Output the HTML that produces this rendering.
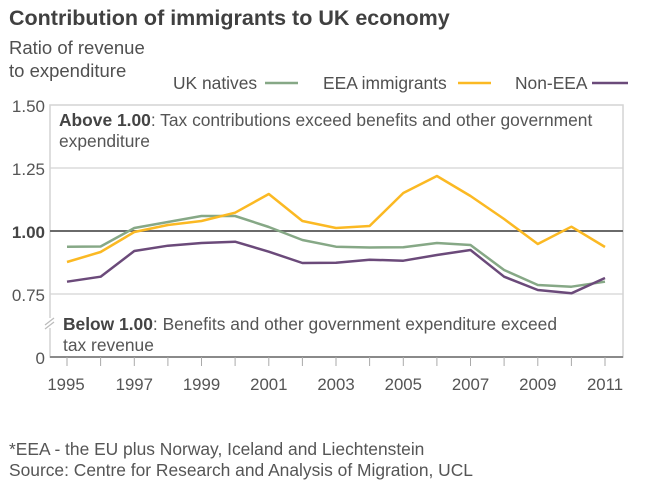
<!DOCTYPE html>
<html><head><meta charset="utf-8"><style>
html,body{margin:0;padding:0;background:#fff;}
svg{display:block;font-family:"Liberation Sans",Arial,sans-serif;}
</style></head><body>
<svg width="651" height="487" viewBox="0 0 651 487" xmlns="http://www.w3.org/2000/svg">
<text x="9" y="25" font-size="21.5" font-weight="bold" fill="#404040">Contribution of immigrants to UK economy</text>
<text x="9" y="54" font-size="18.5" fill="#505050">Ratio of revenue</text>
<text x="9" y="77" font-size="18.5" fill="#505050">to expenditure</text>
<text x="173" y="89" font-size="17.4" fill="#505050">UK natives</text>
<line x1="265" y1="83" x2="298" y2="83" stroke="#86a886" stroke-width="2.5"/>
<text x="323" y="89" font-size="17.4" fill="#505050">EEA immigrants</text>
<line x1="458" y1="83" x2="491" y2="83" stroke="#fbb923" stroke-width="2.5"/>
<text x="515" y="89" font-size="17.4" fill="#505050">Non-EEA</text>
<line x1="592" y1="83" x2="628" y2="83" stroke="#6b4a7a" stroke-width="2.5"/>
<rect x="50" y="105" width="573" height="252" fill="none" stroke="#d4d4d4" stroke-width="1.5"/>
<line x1="50" y1="168" x2="623" y2="168" stroke="#d4d4d4" stroke-width="1.2"/>
<line x1="50" y1="294" x2="623" y2="294" stroke="#d4d4d4" stroke-width="1.2"/>
<line x1="50" y1="231" x2="623" y2="231" stroke="#6a6a6a" stroke-width="2"/>
<line x1="50" y1="357" x2="623" y2="357" stroke="#8a8a8a" stroke-width="2"/>
<g stroke="#aaaaaa" stroke-width="1">
<line x1="67" y1="357" x2="67" y2="366"/><line x1="100.6" y1="357" x2="100.6" y2="366"/><line x1="134.3" y1="357" x2="134.3" y2="366"/><line x1="167.9" y1="357" x2="167.9" y2="366"/><line x1="201.5" y1="357" x2="201.5" y2="366"/><line x1="235.1" y1="357" x2="235.1" y2="366"/><line x1="268.8" y1="357" x2="268.8" y2="366"/><line x1="302.4" y1="357" x2="302.4" y2="366"/><line x1="336" y1="357" x2="336" y2="366"/><line x1="369.6" y1="357" x2="369.6" y2="366"/><line x1="403.3" y1="357" x2="403.3" y2="366"/><line x1="436.9" y1="357" x2="436.9" y2="366"/><line x1="470.5" y1="357" x2="470.5" y2="366"/><line x1="504.1" y1="357" x2="504.1" y2="366"/><line x1="537.8" y1="357" x2="537.8" y2="366"/><line x1="571.4" y1="357" x2="571.4" y2="366"/><line x1="605" y1="357" x2="605" y2="366"/>
</g>
<rect x="45" y="318" width="10" height="10" fill="#fff"/>
<line x1="45" y1="325" x2="54" y2="318" stroke="#bbb" stroke-width="1.2"/>
<line x1="45" y1="329" x2="54" y2="322" stroke="#bbb" stroke-width="1.2"/>
<g font-size="17" fill="#555" text-anchor="end">
<text x="45" y="112">1.50</text>
<text x="45" y="175">1.25</text>
<text x="45" y="238" font-weight="bold" fill="#444">1.00</text>
<text x="45" y="301">0.75</text>
<text x="45" y="364">0</text>
</g>
<g font-size="16.8" fill="#555" text-anchor="middle">
<text x="66" y="390">1995</text><text x="134.3" y="390">1997</text><text x="201.5" y="390">1999</text><text x="268.8" y="390">2001</text><text x="336" y="390">2003</text><text x="403.3" y="390">2005</text><text x="470.5" y="390">2007</text><text x="537.8" y="390">2009</text><text x="605" y="390">2011</text>
</g>
<text x="59" y="126" font-size="17.4" fill="#555"><tspan font-weight="bold" fill="#444">Above 1.00</tspan>: Tax contributions exceed benefits and other government</text>
<text x="59" y="147" font-size="17.4" fill="#555">expenditure</text>
<text x="63" y="330" font-size="17.4" fill="#555"><tspan font-weight="bold" fill="#444">Below 1.00</tspan>: Benefits and other government expenditure exceed</text>
<text x="63" y="351" font-size="17.4" fill="#555">tax revenue</text>
<g fill="none" stroke-width="2.5" stroke-linejoin="round">
<polyline stroke="#86a886" points="67,246.7 100.6,246.5 134.3,228 167.9,222 201.5,216 235.1,216 268.8,227 302.4,240 336,246.7 369.6,247.5 403.3,247.3 436.9,243 470.5,245 504.1,270 537.8,285 571.4,286.7 605,281.7"/>
<polyline stroke="#fbb923" points="67,262 100.6,252 134.3,232 167.9,225 201.5,221 235.1,212.7 268.8,194 302.4,221 336,228 369.6,226 403.3,193 436.9,176 470.5,196 504.1,219 537.8,244 571.4,226.7 605,247"/>
<polyline stroke="#6b4a7a" points="67,281.7 100.6,276.7 134.3,251 167.9,245.7 201.5,243 235.1,241.7 268.8,251.7 302.4,263 336,262.7 369.6,259.7 403.3,260.7 436.9,255 470.5,250 504.1,276.7 537.8,290 571.4,293.3 605,278"/>
</g>
<text x="9" y="455" font-size="17.4" fill="#555">*EEA - the EU plus Norway, Iceland and Liechtenstein</text>
<text x="9" y="476" font-size="17.4" fill="#555">Source: Centre for Research and Analysis of Migration, UCL</text>
</svg>
</body></html>
